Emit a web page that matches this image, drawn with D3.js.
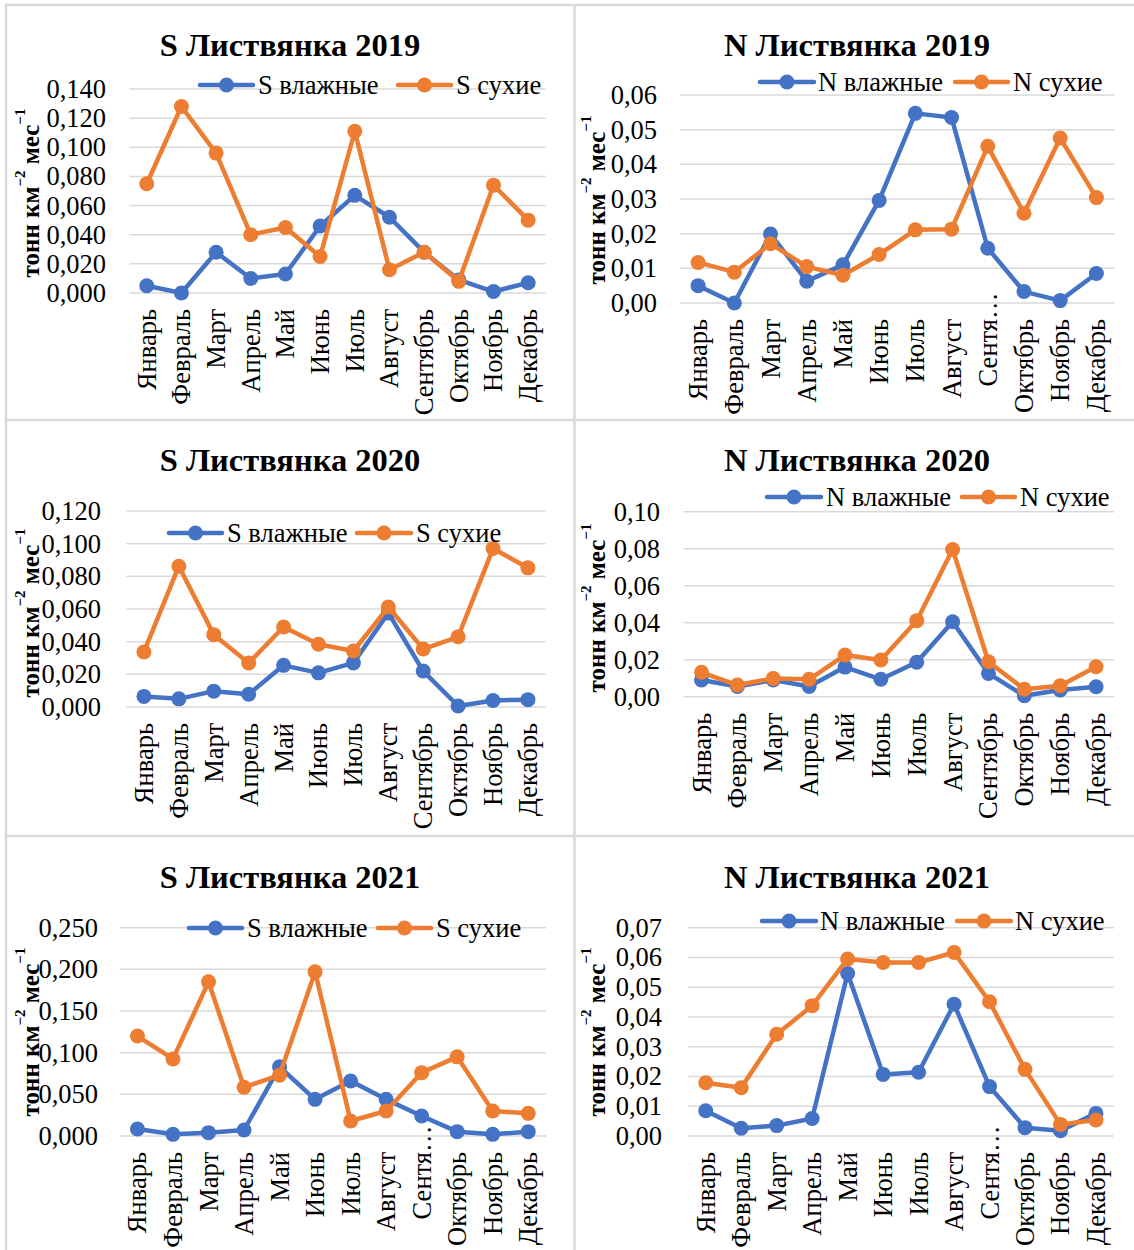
<!DOCTYPE html>
<html>
<head>
<meta charset="utf-8">
<script src="https://cdn.jsdelivr.net/npm/d3@7"></script>
<style>
  html, body { margin: 0; padding: 0; background: #fff; }
  svg { display: block; }
  text { font-family: "Liberation Serif", "Times New Roman", serif; fill: #000; }
</style>
</head>
<body>
<svg id="chart" width="1134" height="1250"></svg>
<script>
// ---- Data ----
const months = ["Январь","Февраль","Март","Апрель","Май","Июнь","Июль","Август","Сентябрь","Октябрь","Ноябрь","Декабрь"];

const sWet2019 = [0.005, 0.000, 0.028, 0.010, 0.013, 0.046, 0.067, 0.052, 0.028, 0.009, 0.001, 0.007];
const sDry2019 = [0.075, 0.128, 0.096, 0.040, 0.045, 0.025, 0.111, 0.016, 0.028, 0.008, 0.074, 0.050];

const nWet2019 = [0.0050, 0.0000, 0.0199, 0.0063, 0.0110, 0.0296, 0.0547, 0.0535, 0.0158, 0.0033, 0.0007, 0.0085];
const nDry2019 = [0.0117, 0.0089, 0.0171, 0.0105, 0.0080, 0.0140, 0.0211, 0.0213, 0.0452, 0.0259, 0.0476, 0.0304];

const sWet2020 = [0.0065, 0.0050, 0.0097, 0.0078, 0.0255, 0.0209, 0.0270, 0.0576, 0.0220, 0.0006, 0.0040, 0.0045];
const sDry2020 = [0.0337, 0.0862, 0.0443, 0.0270, 0.0490, 0.0384, 0.0343, 0.0612, 0.0355, 0.0430, 0.0970, 0.0852];

const nWet2020 = [0.0090, 0.0055, 0.0090, 0.0055, 0.0160, 0.0094, 0.0186, 0.0405, 0.0126, 0.0005, 0.0036, 0.0054];
const nDry2020 = [0.0132, 0.0063, 0.0099, 0.0094, 0.0225, 0.0198, 0.0411, 0.0796, 0.0189, 0.0040, 0.0059, 0.0162];

const sWet2021 = [0.0084, 0.0020, 0.0040, 0.0072, 0.0830, 0.0440, 0.0660, 0.0440, 0.0240, 0.0052, 0.0020, 0.0052];
const sDry2021 = [0.1200, 0.0925, 0.1850, 0.0585, 0.0730, 0.1970, 0.0180, 0.0300, 0.0760, 0.0950, 0.0300, 0.0272];

const nWet2021 = [0.0085, 0.0026, 0.0035, 0.0059, 0.0546, 0.0207, 0.0214, 0.0443, 0.0166, 0.0028, 0.0018, 0.0076];
const nDry2021 = [0.0179, 0.0162, 0.0342, 0.0438, 0.0595, 0.0583, 0.0583, 0.0617, 0.0451, 0.0224, 0.0039, 0.0054];

const titles = ["S Листвянка 2019","N Листвянка 2019","S Листвянка 2020","N Листвянка 2020","S Листвянка 2021","N Листвянка 2021"];
const wetNames = ["S влажные","N влажные","S влажные","N влажные","S влажные","N влажные"];
const dryNames = ["S сухие","N сухие","S сухие","N сухие","S сухие","N сухие"];
const yMax = [0.14, 0.06, 0.12, 0.10, 0.25, 0.07];
const yStep = [0.02, 0.01, 0.02, 0.02, 0.05, 0.01];
const yDecimals = [3, 2, 3, 2, 3, 2];
const truncateSep = [false, true, false, false, true, true];
const wetSeries = [sWet2019, nWet2019, sWet2020, nWet2020, sWet2021, nWet2021];
const drySeries = [sDry2019, nDry2019, sDry2020, nDry2020, sDry2021, nDry2021];

// ---- Layout (positions only) ----
const layout = [
  {L:129.4, R:545.5, T:89,    B:293,  tx:290, ty:45,  tickR:106, ytX:30,  ytY:193,  lgY:85,  lg:[200,253,258,398,451,456]},
  {L:680,   R:1114.5,T:95,    B:303,  tx:857, ty:45,  tickR:657, ytX:596, ytY:200,  lgY:82,  lg:[760,814,818,955,1008,1013]},
  {L:126.5, R:545.4, T:511,   B:707,  tx:290, ty:460, tickR:101, ytX:30,  ytY:613,  lgY:533, lg:[169,222,227,357,411,416]},
  {L:683.6, R:1114,  T:511.7, B:696.7,tx:857, ty:460, tickR:660, ytX:596, ytY:608,  lgY:497, lg:[767,821,826,962,1015,1020]},
  {L:119.7, R:546,   T:927.7, B:1136, tx:290, ty:877, tickR:98,  ytX:30,  ytY:1032, lgY:928, lg:[189,242,247,378,431,436]},
  {L:688,   R:1113.7,T:927.7, B:1136, tx:857, ty:877, tickR:662, ytX:596, ytY:1032, lgY:921, lg:[762,816,820,957,1011,1015]}
];

const BLUE = "#4472C4", ORANGE = "#ED7D31", GRID = "#d9d9d9";
const FS = 26.5;

const svg = d3.select("#chart");

// frame lines
const frame = svg.append("g").attr("stroke", GRID).attr("stroke-width", 2.5);
frame.append("line").attr("x1", 6).attr("x2", 6).attr("y1", 4).attr("y2", 1250);
frame.append("line").attr("x1", 5).attr("x2", 1134).attr("y1", 5).attr("y2", 5);
frame.append("line").attr("x1", 574.5).attr("x2", 574.5).attr("y1", 4).attr("y2", 1250);
frame.append("line").attr("x1", 5).attr("x2", 1134).attr("y1", 420).attr("y2", 420);
frame.append("line").attr("x1", 5).attr("x2", 1134).attr("y1", 836).attr("y2", 836);

layout.forEach((p, k) => {
  const g = svg.append("g");
  const x = d3.scalePoint().domain(d3.range(12)).range([p.L, p.R]).padding(0.5);
  const y = d3.scaleLinear().domain([0, yMax[k]]).range([p.B, p.T]);
  const ticks = d3.range(0, Math.round(yMax[k] / yStep[k]) + 1).map(i => i * yStep[k]);
  const fmt = v => d3.format("." + yDecimals[k] + "f")(v).replace(".", ",");

  // gridlines
  g.append("g").selectAll("line").data(ticks).join("line")
    .attr("x1", p.L).attr("x2", p.R)
    .attr("y1", d => y(d)).attr("y2", d => y(d))
    .attr("stroke", GRID).attr("stroke-width", 1.5);

  // y tick labels
  g.append("g").selectAll("text").data(ticks).join("text")
    .attr("x", p.tickR).attr("y", d => y(d))
    .attr("text-anchor", "end").attr("dominant-baseline", "central")
    .attr("font-size", FS).text(fmt);

  // x labels
  const xl = g.append("g");
  months.forEach((m, i) => {
    const px = x(i), py = p.B + 16;
    const t = xl.append("g").attr("transform", `translate(${px},${py}) rotate(-90)`);
    if (i === 8 && truncateSep[k]) {
      t.append("text").attr("text-anchor", "end").attr("dominant-baseline", "central")
        .attr("font-size", FS).text("Сентя");
      t.append("text").attr("text-anchor", "start").attr("dominant-baseline", "central")
        .attr("font-size", FS).text("…");
    } else {
      t.append("text").attr("text-anchor", "end").attr("dominant-baseline", "central")
        .attr("font-size", FS).text(m);
    }
  });

  // title
  g.append("text").attr("x", p.tx).attr("y", p.ty)
    .attr("text-anchor", "middle").attr("dominant-baseline", "central")
    .attr("font-size", 32.5).attr("font-weight", "bold").text(titles[k]);

  // y-axis title
  const yt = g.append("text")
    .attr("transform", `translate(${p.ytX},${p.ytY}) rotate(-90)`)
    .attr("text-anchor", "middle").attr("dominant-baseline", "central")
    .attr("font-size", 25).attr("font-weight", "bold");
  yt.append("tspan").text("тонн км");
  yt.append("tspan").attr("font-size", 15).attr("dy", -10).text("−2");
  yt.append("tspan").attr("dy", 10).text(" мес");
  yt.append("tspan").attr("font-size", 15).attr("dy", -10).text("−1");

  // series
  const line = d3.line().x((d, i) => x(i)).y(d => y(d));
  [[wetSeries[k], BLUE], [drySeries[k], ORANGE]].forEach(([data, col]) => {
    g.append("path").datum(data).attr("d", line)
      .attr("fill", "none").attr("stroke", col).attr("stroke-width", 4.5)
      .attr("stroke-linejoin", "round").attr("stroke-linecap", "round");
    g.append("g").selectAll("circle").data(data).join("circle")
      .attr("cx", (d, i) => x(i)).attr("cy", d => y(d)).attr("r", 7.5)
      .attr("fill", col);
  });

  // legend
  const lg = p.lg;
  [[lg[0], lg[1], lg[2], BLUE, wetNames[k]], [lg[3], lg[4], lg[5], ORANGE, dryNames[k]]].forEach(([a, b, tx, col, name]) => {
    g.append("line").attr("x1", a).attr("x2", b).attr("y1", p.lgY).attr("y2", p.lgY)
      .attr("stroke", col).attr("stroke-width", 4.5).attr("stroke-linecap", "round");
    g.append("circle").attr("cx", (a + b) / 2).attr("cy", p.lgY).attr("r", 7.5).attr("fill", col);
    g.append("text").attr("x", tx).attr("y", p.lgY).attr("dominant-baseline", "central")
      .attr("font-size", FS).text(name);
  });
});
</script>
</body>
</html>
